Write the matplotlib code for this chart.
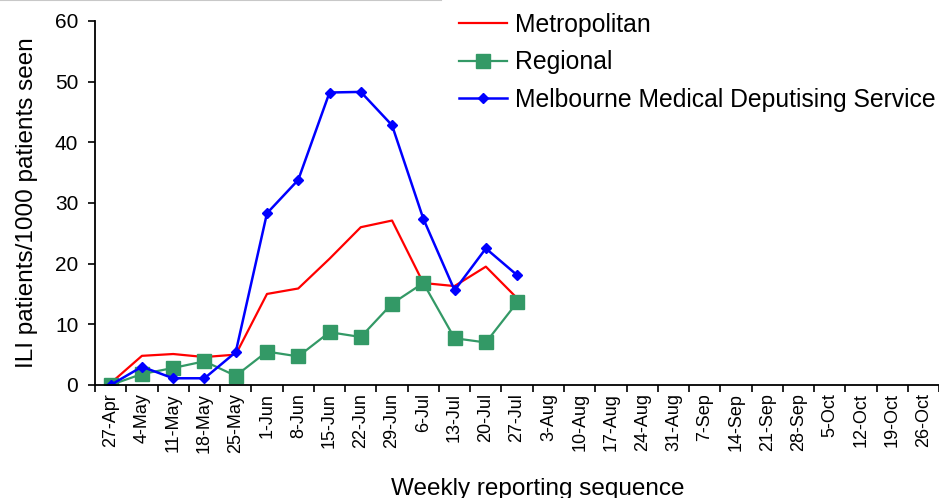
import matplotlib
matplotlib.use("Agg")
import matplotlib.pyplot as plt
import numpy as np
from matplotlib.lines import Line2D

plt.rcParams['font.family'] = ['Liberation Sans', 'DejaVu Sans']

# weekly reporting sequence
weeks = ["27-Apr", "4-May", "11-May", "18-May", "25-May", "1-Jun", "8-Jun",
         "15-Jun", "22-Jun", "29-Jun", "6-Jul", "13-Jul", "20-Jul", "27-Jul",
         "3-Aug", "10-Aug", "17-Aug", "24-Aug", "31-Aug", "7-Sep", "14-Sep",
         "21-Sep", "28-Sep", "5-Oct", "12-Oct", "19-Oct", "26-Oct"]

# ILI patients / 1000 patients seen (data only up to 27-Jul)
metropolitan = [0.3, 4.8, 5.1, 4.6, 5.0, 15.0, 15.9, 20.8, 26.0, 27.1, 16.8, 16.3, 19.5, 14.3]
regional = [0.0, 1.8, 2.8, 3.9, 1.5, 5.5, 4.7, 8.7, 7.9, 13.4, 16.8, 7.7, 7.0, 13.6]
mmds = [0.0, 3.0, 1.1, 1.1, 5.4, 28.3, 33.8, 48.2, 48.3, 42.8, 27.4, 15.6, 22.5, 18.1]

fig = plt.figure(figsize=(9.39, 4.98), dpi=100)
ax = fig.add_axes([0.1012, 0.227, 0.899, 0.731])

x = np.arange(len(weeks))
n = len(metropolitan)
ax.plot(x[:n], metropolitan, color='#ff0000', lw=1.6, label='Metropolitan')
ax.plot(x[:n], regional, color='#339966', lw=1.6, marker='s', markersize=10,
        label='Regional')
ax.plot(x[:n], mmds, color='#0000ff', lw=1.8, marker='D', markersize=5,
        label='Melbourne Medical Deputising Service')

ax.set_xlim(-0.5, len(weeks) - 0.5)
ax.set_ylim(0, 60)
ax.set_yticks(range(0, 61, 10))
ax.set_xticks(x)
ax.set_xticklabels(weeks, rotation=90, fontsize=13)
ax.set_xticks(np.arange(-0.5, len(weeks), 1), minor=True)
ax.tick_params(axis='x', which='major', length=0, pad=6)
ax.tick_params(axis='x', which='minor', length=5, width=1.2, direction='out')
ax.tick_params(axis='y', length=5, width=1.2, labelsize=15, pad=7)

for s in ['top', 'right']:
    ax.spines[s].set_visible(False)
ax.spines['left'].set_linewidth(1.3)
ax.spines['bottom'].set_linewidth(1.3)

ax.set_ylabel("ILI patients/1000 patients seen", fontsize=17.5)
ax.yaxis.set_label_coords(-0.068, 0.5)
ax.set_xlabel("Weekly reporting sequence", fontsize=17.5)
ax.xaxis.set_label_coords(0.524, -0.255)

ax.legend(loc='upper left', bbox_to_anchor=(0.405, 1.083), frameon=False,
          fontsize=17.8, handlelength=1.95, handletextpad=0.3, labelspacing=0.54)

# thin grey border line at the top left
fig.add_artist(Line2D([0, 0.47], [0.999, 0.999], color='#c8c8c8', lw=1.5,
                      transform=fig.transFigure))

fig.savefig("out.png", dpi=100)
